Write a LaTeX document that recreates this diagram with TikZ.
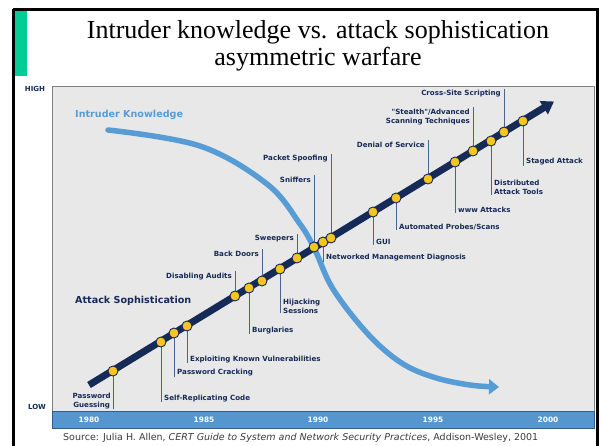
\documentclass[tikz,border=0pt]{standalone}
\usepackage{fontspec}
\setmainfont{Liberation Serif}
\newfontfamily\lblfont{DejaVu Sans}
\usetikzlibrary{arrows.meta}
\definecolor{navy}{RGB}{22,42,88}
\definecolor{dotyellow}{RGB}{246,198,30}
\definecolor{leadc}{RGB}{70,100,140}
\definecolor{lblue}{RGB}{88,156,214}
\definecolor{chartbg}{RGB}{232,232,232}
\definecolor{chartframe}{RGB}{128,128,128}
\definecolor{barblue}{RGB}{86,150,206}
\definecolor{bardark}{RGB}{50,95,145}
\definecolor{tealbar}{RGB}{0,204,150}
\definecolor{srcgray}{RGB}{60,60,60}
\tikzset{
  lab/.style={font=\lblfont\bfseries\fontsize{7.1}{9.2}\selectfont, text=navy, inner sep=0pt},
  biglab/.style={font=\lblfont\bfseries\fontsize{9.6}{11}\selectfont, inner sep=0pt},
  yearlab/.style={font=\lblfont\bfseries\fontsize{7.4}{9}\selectfont, text=white, inner sep=0pt},
  axislab/.style={font=\lblfont\bfseries\fontsize{7}{9}\selectfont, text=navy, inner sep=0pt},
  dot/.style={circle, fill=dotyellow, draw=navy, line width=0.9pt, minimum size=10pt, inner sep=0pt},
  leader/.style={draw=leadc, line width=0.9pt},
  titletext/.style={font=\fontsize{26}{27}\selectfont, align=center, inner sep=0pt}
}
\begin{document}
\begin{tikzpicture}[x=1pt,y=-1pt]
\useasboundingbox (0,0) rectangle (602,445);
\fill[white] (0,0) rectangle (602,445);
% outer frame and green bar
\fill[tealbar] (13,9) rectangle (27,76);
\draw[black, line width=3pt] (13,9) -- (597,9) -- (597,452) (13,9) -- (13,452);
% title
\node[titletext] (title) at (318,46) {Intruder knowledge vs. attack sophistication\\asymmetric warfare};
% chart area
\draw[chartframe, fill=chartbg, line width=1pt] (52,86) rectangle (594,428);
\draw[bardark, fill=barblue, line width=0.8pt] (52,411) rectangle (594,428);
\node[yearlab] (y1980) at (89,419.5) {1980};
\node[yearlab] (y1985) at (204,419.5) {1985};
\node[yearlab] (y1990) at (318,419.5) {1990};
\node[yearlab] (y1995) at (433,419.5) {1995};
\node[yearlab] (y2000) at (548,419.5) {2000};
\node[axislab] (high) at (35,89) {HIGH};
\node[axislab] (low) at (37,407) {LOW};
% source
\node[font=\lblfont\fontsize{9.5}{11}\selectfont, text=srcgray, anchor=west, inner sep=0pt] (src) at (63,437.5)
  {Source: Julia H. Allen, \textit{CERT Guide to System and Network Security Practices}, Addison-Wesley, 2001};
% big labels
\node[biglab, text=lblue, anchor=west] (ik) at (75,115) {Intruder Knowledge};
\node[biglab, text=navy, anchor=west] (as) at (75,301) {Attack Sophistication};
% attack sophistication arrow
\coordinate (aStart) at (89,385);
\coordinate (aEnd) at (554,101.5);
\draw[navy, line width=7pt, -{Triangle[length=12pt,width=15pt]}] (aStart) -- (aEnd);
% intruder knowledge curve
\draw[lblue, line width=5.5pt, line cap=round, -{Triangle[length=10pt,width=15pt]}]
  plot[smooth, tension=0.6] coordinates {(108,130) (200,146) (267,184) (300,224) (315,250) (333,289) (367,333) (400,362) (433,377) (470,385) (499,387)};
% leader end points
\coordinate (e1) at (113,409);
\coordinate (e2) at (161,402);
\coordinate (e3) at (174,377);
\coordinate (e4) at (187,363);
\coordinate (e5) at (235,271);
\coordinate (e6) at (249,334);
\coordinate (e7) at (262,249);
\coordinate (e8) at (280,313);
\coordinate (e9) at (297,234);
\coordinate (e10) at (314,175);
\coordinate (e11) at (323,262);
\coordinate (e12) at (331,154);
\coordinate (e13) at (373,245);
\coordinate (e14) at (396,230);
\coordinate (e15) at (428,140);
\coordinate (e16) at (455,213);
\coordinate (e17) at (473,107);
\coordinate (e18) at (491,195);
\coordinate (e19) at (504,89);
\coordinate (e20) at (523,166);
% leaders
\foreach \i/\x/\y in {1/113/371,2/161/342,3/174/333,4/187/326,5/235/296,6/249/288,7/262/281,8/280/269,9/297/258,10/314/247,11/323/242,12/331/238,13/373/212,14/396/198,15/428/179,16/455/162,17/473/151,18/491/141,19/504/132,20/523/121}
  {\coordinate (c\i) at (\x,\y); \draw[leader] (c\i) -- (e\i);}
% dots
\foreach \i in {1,...,20} {\node[dot] (d\i) at (c\i) {};}
% labels
\node[lab, anchor=east, align=center] (t1) at (111,401) {Password\\Guessing};
\node[lab, anchor=west] (t2) at (164,399) {Self-Replicating Code};
\node[lab, anchor=west] (t3) at (177,373) {Password Cracking};
\node[lab, anchor=west] (t4) at (190,360) {Exploiting Known Vulnerabilities};
\node[lab, anchor=east] (t5) at (232,277) {Disabling Audits};
\node[lab, anchor=west] (t6) at (252,331) {Burglaries};
\node[lab, anchor=east] (t7) at (259,254) {Back Doors};
\node[lab, anchor=west, align=left] (t8) at (283,306) {Hijacking\\Sessions};
\node[lab, anchor=east] (t9) at (294,239) {Sweepers};
\node[lab, anchor=east] (t10) at (311,180) {Sniffers};
\node[lab, anchor=west] (t11) at (326,258) {Networked Management Diagnosis};
\node[lab, anchor=east] (t12) at (328,159) {Packet Spoofing};
\node[lab, anchor=west] (t13) at (376,242) {GUI};
\node[lab, anchor=west] (t14) at (399,227) {Automated Probes/Scans};
\node[lab, anchor=east] (t15) at (425,145) {Denial of Service};
\node[lab, anchor=west] (t16) at (458,210) {www Attacks};
\node[lab, anchor=east, align=right] (t17) at (470,117) {"Stealth"/Advanced\\Scanning Techniques};
\node[lab, anchor=west, align=left] (t18) at (494,187) {Distributed\\Attack Tools};
\node[lab, anchor=east] (t19) at (501,94) {Cross-Site Scripting};
\node[lab, anchor=west] (t20) at (526,162) {Staged Attack};
\end{tikzpicture}
\end{document}
